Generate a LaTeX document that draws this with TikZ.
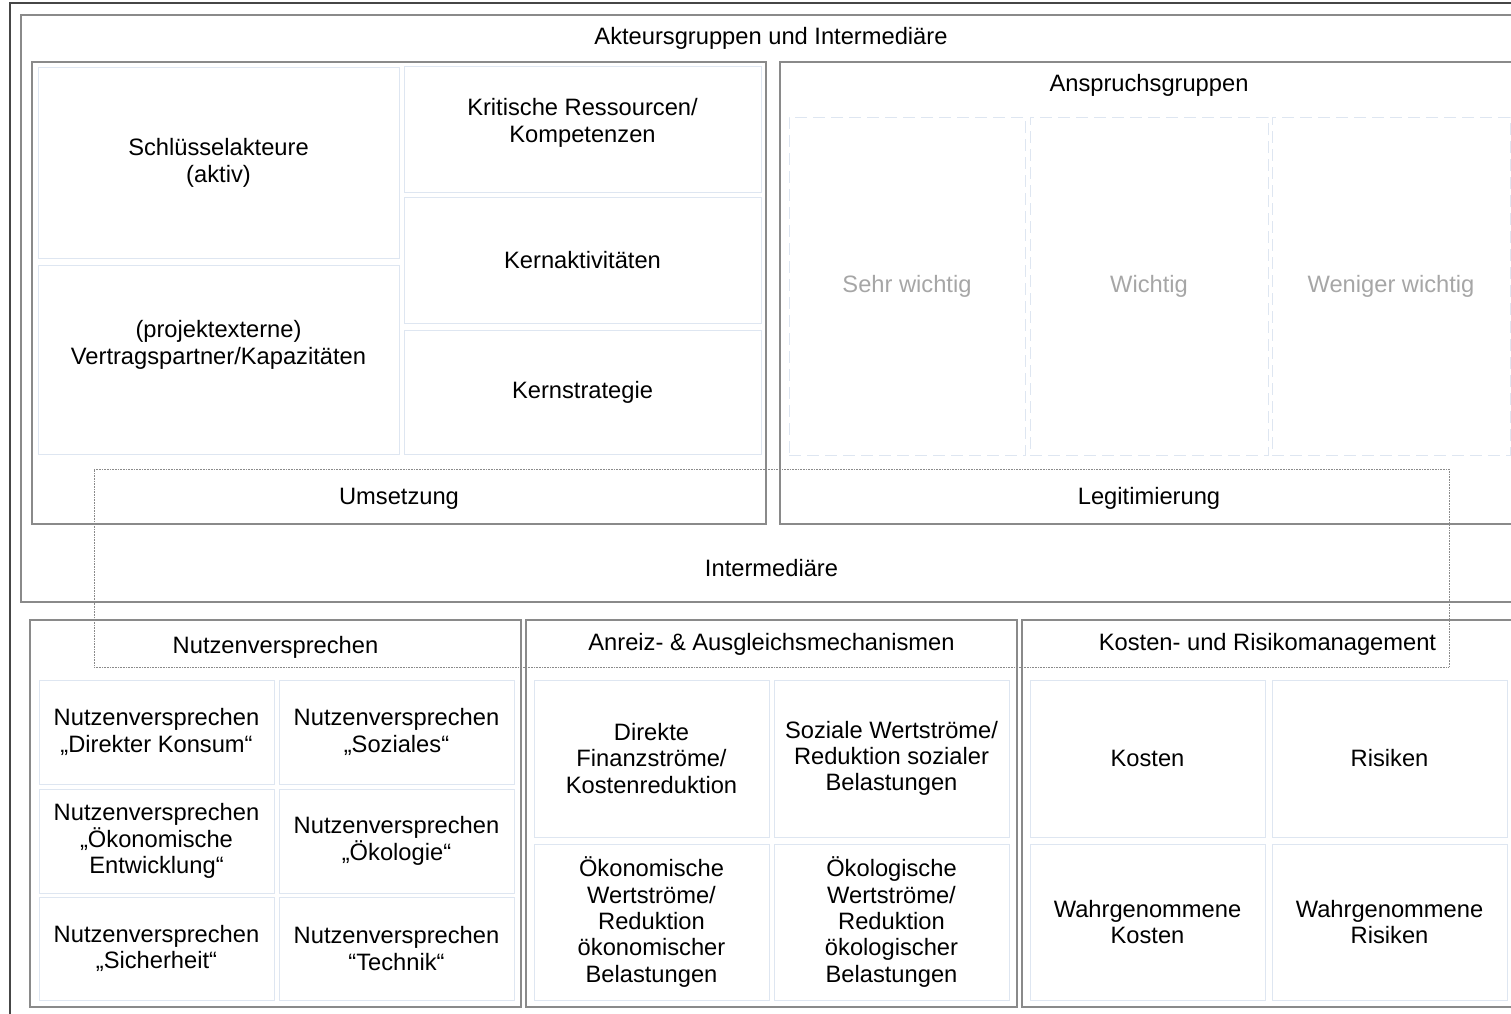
\documentclass[tikz,border=0pt]{standalone}
\usepackage{fontspec}
\setmainfont{Liberation Sans}
\usepackage{xcolor}
\definecolor{rahmengrau}{RGB}{70, 70, 70}
\definecolor{boxgrau}{RGB}{138, 138, 138}
\definecolor{feldlinie}{RGB}{222, 230, 241}
\definecolor{schwach}{RGB}{166, 166, 166}
\usepackage{tikz}
\usetikzlibrary{positioning}

\begin{document}
\begin{tikzpicture}[x=1pt, y=-1pt,
    font=\fontsize{23.7pt}{26.3pt}\selectfont,
    hauptbox/.style={draw=boxgrau, line width=1.6pt, rectangle},
    feld/.style={draw=feldlinie, line width=1pt, rectangle, align=center},
    gruppe/.style={draw=feldlinie, line width=1pt, dash pattern=on 12pt off 6pt, rectangle, text=schwach},
    vermittler/.style={draw=boxgrau, line width=0.8pt, dash pattern=on 0.8pt off 0.8pt, rectangle},
    titel/.style={align=center, inner sep=0pt}]

    \useasboundingbox (0,0) rectangle (1511,1013);
    \clip (0,0) rectangle (1511,1013);

    % Outer frame
    \draw[rahmengrau, line width=1.8pt] (1530,3) -| (10,1030);

    % Akteursgruppen box
    \node[hauptbox, minimum width=1500, minimum height=587] (akteure) at (771,308.5) {};
    \node[titel, below=13pt of akteure.north] (akteuretitel) {Akteursgruppen und Intermediäre};

    % Left box
    \node[hauptbox, minimum width=734, minimum height=462] (umsetzung) at (399,293) {};
    \node[titel, above=15pt of umsetzung.south] (umsetzungtitel) {Umsetzung};

    \node[feld, minimum width=361, minimum height=191] (schluessel) at (218.5,163)
        {Schlüsselakteure\\(aktiv)};
    \node[feld, minimum width=361, minimum height=189] (partner) at (218.5,359.5) {};
    \node[titel] (partnertext) at (218.5,345) {(projektexterne)\\Vertragspartner/Kapazitäten};
    \node[feld, minimum width=357, minimum height=126] (ressourcen) at (582.5,129) {};
    \node[titel] (ressourcentext) at (582.5,123) {Kritische Ressourcen/\\Kompetenzen};
    \node[feld, minimum width=357, minimum height=126] (kernakt) at (582.5,260) {Kernaktivitäten};
    \node[feld, minimum width=357, minimum height=124] (kernstrat) at (582.5,392) {Kernstrategie};

    % Right box
    \node[hauptbox, minimum width=738, minimum height=462] (legitimierung) at (1149,293) {};
    \node[titel, below=13pt of legitimierung.north] (anspruch) {Anspruchsgruppen};
    \node[titel, above=15pt of legitimierung.south] (legitimierungtitel) {Legitimierung};

    \node[gruppe, minimum width=236, minimum height=338] (sehr) at (907,286) {Sehr wichtig};
    \node[gruppe, minimum width=238, minimum height=338] (wichtig) at (1149,286) {Wichtig};
    \node[gruppe, minimum width=238, minimum height=338] (weniger) at (1391,286) {Weniger wichtig};

    % Bottom left box
    \node[hauptbox, minimum width=491, minimum height=387] (nutzen) at (275.5,813.5) {};
    \node[titel, below=17pt of nutzen.north] (nutzentitel) {Nutzenversprechen};

    \node[feld, minimum width=235, minimum height=104] (konsum) at (156.5,732)
        {Nutzenversprechen\\„Direkter Konsum“};
    \node[feld, minimum width=235, minimum height=104] (soziales) at (396.5,732)
        {Nutzenversprechen\\„Soziales“};
    \node[feld, minimum width=235, minimum height=104] (entwicklung) at (156.5,841)
        {Nutzenversprechen\\„Ökonomische\\Entwicklung“};
    \node[feld, minimum width=235, minimum height=104] (oekologie) at (396.5,841)
        {Nutzenversprechen\\„Ökologie“};
    \node[feld, minimum width=235, minimum height=103] (sicherheit) at (156.5,948.5)
        {Nutzenversprechen\\„Sicherheit“};
    \node[feld, minimum width=235, minimum height=103] (technik) at (396.5,948.5)
        {Nutzenversprechen\\“Technik“};

    % Bottom middle box
    \node[hauptbox, minimum width=491, minimum height=387] (anreiz) at (771.5,813.5) {};
    \node[titel, below=14pt of anreiz.north] (anreiztitel) {Anreiz- \& Ausgleichsmechanismen};

    \node[feld, minimum width=235, minimum height=157] (finanz) at (651.5,758.5)
        {Direkte\\Finanzströme/\\Kostenreduktion};
    \node[feld, minimum width=235, minimum height=157] (sozialwert) at (891.5,758.5)
        {Soziale Wertströme/\\Reduktion sozialer\\Belastungen};
    \node[feld, minimum width=235, minimum height=156] (oekonomwert) at (651.5,922)
        {Ökonomische\\Wertströme/\\Reduktion\\ökonomischer\\Belastungen};
    \node[feld, minimum width=235, minimum height=156] (oekologwert) at (891.5,922)
        {Ökologische\\Wertströme/\\Reduktion\\ökologischer\\Belastungen};

    % Bottom right box
    \node[hauptbox, minimum width=491, minimum height=387] (risiko) at (1267.5,813.5) {};
    \node[titel, below=14pt of risiko.north] (risikotitel) {Kosten- und Risikomanagement};

    \node[feld, minimum width=235, minimum height=157] (kosten) at (1147.5,758.5) {Kosten};
    \node[feld, minimum width=235, minimum height=157] (risiken) at (1389.5,758.5) {Risiken};
    \node[feld, minimum width=235, minimum height=156] (wkosten) at (1147.5,922)
        {Wahrgenommene\\Kosten};
    \node[feld, minimum width=235, minimum height=156] (wrisiken) at (1389.5,922)
        {Wahrgenommene\\Risiken};

    % Dotted box across
    \node[vermittler, minimum width=1355, minimum height=198] (intermediaere) at (771.5,568) {Intermediäre};

\end{tikzpicture}
\end{document}
